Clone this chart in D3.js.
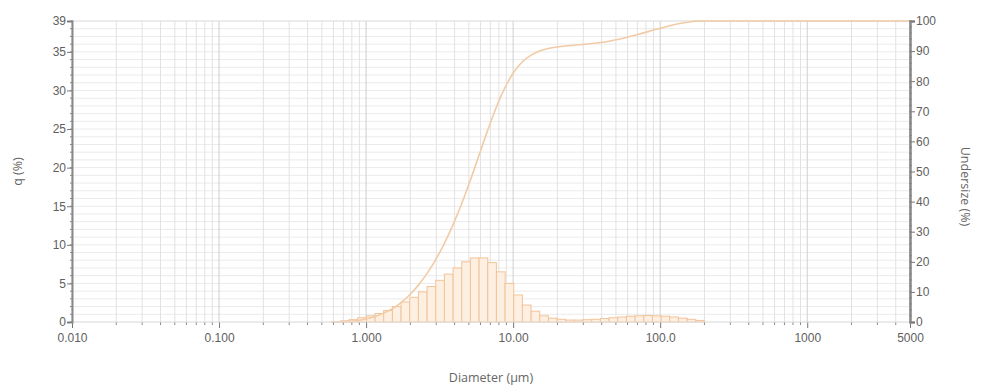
<!DOCTYPE html>
<html>
<head>
<meta charset="utf-8">
<script src="https://cdn.jsdelivr.net/npm/d3@7"></script>
<style>
  body { margin: 0; background: #fff; }
  svg { font-family: "Open Sans", "DejaVu Sans", sans-serif; }
  .label { fill: #666; font-size: 12.5px; }
</style>
</head>
<body>
<svg></svg>
<script>
const width = 981
const height = 389
const margins = { top: 21, bottom: 67, left: 72, right: 71 }

// channel upper edges (um) and frequency q (%)
const channels = [0.584, 0.669, 0.766, 0.877, 1.005, 1.151, 1.318, 1.510, 1.729, 1.981,
  2.269, 2.599, 2.976, 3.409, 3.905, 4.472, 5.122, 5.867, 6.720, 7.697,
  8.816, 10.097, 11.565, 13.246, 15.172, 17.377, 19.904, 22.797, 26.111, 29.907,
  34.255, 39.234, 44.938, 51.471, 58.953, 67.523, 77.339, 88.583, 101.46, 116.21,
  133.10, 152.45, 174.61, 200.00]
const q = [0, 0.05, 0.15, 0.3, 0.55, 0.8, 1.1, 1.5, 2.0, 2.6,
  3.2, 3.9, 4.6, 5.4, 6.2, 7.0, 7.8, 8.3, 8.3, 7.7,
  6.5, 5.0, 3.5, 2.2, 1.4, 0.8, 0.5, 0.35, 0.25, 0.25,
  0.3, 0.35, 0.45, 0.55, 0.65, 0.75, 0.8, 0.85, 0.8, 0.75,
  0.65, 0.5, 0.35, 0.2]

const x_ticks = [0.01, 0.1, 1, 10, 100, 1000, 5000]
const x_labels = ["0.010", "0.100", "1.000", "10.00", "100.0", "1000", "5000"]
const q_ticks = [0, 5, 10, 15, 20, 25, 30, 35, 39]
const u_ticks = [0, 10, 20, 30, 40, 50, 60, 70, 80, 90, 100]

let x_scale = d3.scaleLog([0.01, 5000], [margins.left, width - margins.right])
let y_left = d3.scaleLinear([0, 39], [height - margins.bottom, margins.top])
let y_right = d3.scaleLinear([0, 100], [height - margins.bottom, margins.top])

let svg = d3.select("svg").attr("width", width).attr("height", height)

// minor log positions
let minor = []
for (let e = -2; e <= 3; e++) {
  for (let m = 1; m <= 9; m++) {
    let v = m * Math.pow(10, e)
    if (v <= 5000) minor.push(v)
  }
}
minor.push(5000)

// grid
let grid = svg.append("g")
grid.selectAll(".hg").data(d3.range(0, 40, 1)).join("line")
  .attr("x1", margins.left).attr("x2", width - margins.right)
  .attr("y1", d => y_left(d)).attr("y2", d => y_left(d))
  .style("stroke", "#ebebeb").style("stroke-width", 1)
grid.selectAll(".vg").data(minor).join("line")
  .attr("x1", d => x_scale(d)).attr("x2", d => x_scale(d))
  .attr("y1", margins.top).attr("y2", height - margins.bottom)
  .style("stroke", d => x_ticks.includes(d) ? "#cfcfcf" : "#e2e2e2")
  .style("stroke-width", 1)
grid.append("line")
  .attr("x1", margins.left).attr("x2", width - margins.right)
  .attr("y1", margins.top).attr("y2", margins.top)
  .style("stroke", "#e2e2e2")

// histogram bars
let bars = channels.slice(1).map((hi, i) => ({ lo: channels[i], hi: hi, q: q[i + 1] }))
svg.append("g").selectAll("rect").data(bars).join("rect")
  .attr("x", d => x_scale(d.lo))
  .attr("width", d => x_scale(d.hi) - x_scale(d.lo))
  .attr("y", d => y_left(d.q))
  .attr("height", d => y_left(0) - y_left(d.q))
  .style("fill", "#fdf0e3")
  .style("stroke", "#f2c399")
  .style("stroke-width", 1)

// undersize curve
let cum = d3.cumsum(q).map(v => Math.min(v, 100))
let pts = channels.map((d, i) => [d, cum[i]])
pts.push([5000, 100])
let line = d3.line()
  .x(d => x_scale(d[0]))
  .y(d => y_right(d[1]))
  .curve(d3.curveMonotoneX)
svg.append("path")
  .attr("d", line(pts))
  .style("fill", "none")
  .style("stroke", "#f1cba6")
  .style("stroke-width", 1.6)

// axes
let x_axis = svg.append("g")
  .attr("transform", `translate(0,${height - margins.bottom})`)
  .call(d3.axisBottom(x_scale).tickValues(x_ticks).tickFormat((d, i) => x_labels[i]).tickSize(6).tickPadding(5))
x_axis.select(".domain").remove()
x_axis.selectAll(".tick line").style("stroke", "#777")
x_axis.selectAll(".minor").data(minor.filter(d => !x_ticks.includes(d))).join("line")
  .attr("x1", d => x_scale(d)).attr("x2", d => x_scale(d))
  .attr("y1", 0).attr("y2", 3)
  .style("stroke", "#888")
x_axis.append("line")
  .attr("x1", margins.left).attr("x2", width - margins.right)
  .style("stroke", "#e0e0e0")

let left_axis = svg.append("g")
  .attr("transform", `translate(${margins.left},0)`)
  .call(d3.axisLeft(y_left).tickValues(q_ticks).tickFormat(d3.format("d")).tickSize(5).tickPadding(1))
left_axis.select(".domain").style("stroke", "#888").style("stroke-width", 2)
left_axis.selectAll(".tick line").style("stroke", "#777")
left_axis.selectAll(".minor").data(d3.range(0, 40, 1)).join("line")
  .attr("x1", -2).attr("x2", 1)
  .attr("y1", d => y_left(d)).attr("y2", d => y_left(d))
  .style("stroke", "#888")

let right_axis = svg.append("g")
  .attr("transform", `translate(${width - margins.right},0)`)
  .call(d3.axisRight(y_right).tickValues(u_ticks).tickSize(5).tickPadding(1))
right_axis.select(".domain").style("stroke", "#888").style("stroke-width", 2.5)
right_axis.selectAll(".tick line").style("stroke", "#777")
right_axis.selectAll(".minor").data(d3.range(0, 101, 2)).join("line")
  .attr("x1", -1).attr("x2", 2)
  .attr("y1", d => y_right(d)).attr("y2", d => y_right(d))
  .style("stroke", "#888")

svg.selectAll(".tick text").style("fill", "#606060").style("font-size", "12px")

// axis titles
svg.append("text").classed("label", true)
  .attr("x", (margins.left + width - margins.right) / 2)
  .attr("y", height - 7)
  .attr("text-anchor", "middle")
  .text("Diameter (µm)")
svg.append("text").classed("label", true)
  .attr("transform", `translate(22,${(margins.top + height - margins.bottom) / 2}) rotate(-90)`)
  .attr("text-anchor", "middle")
  .text("q (%)")
svg.append("text").classed("label", true)
  .attr("transform", `translate(961,${(margins.top + height - margins.bottom) / 2 + 15}) rotate(90)`)
  .attr("text-anchor", "middle")
  .text("Undersize (%)")
</script>
</body>
</html>
